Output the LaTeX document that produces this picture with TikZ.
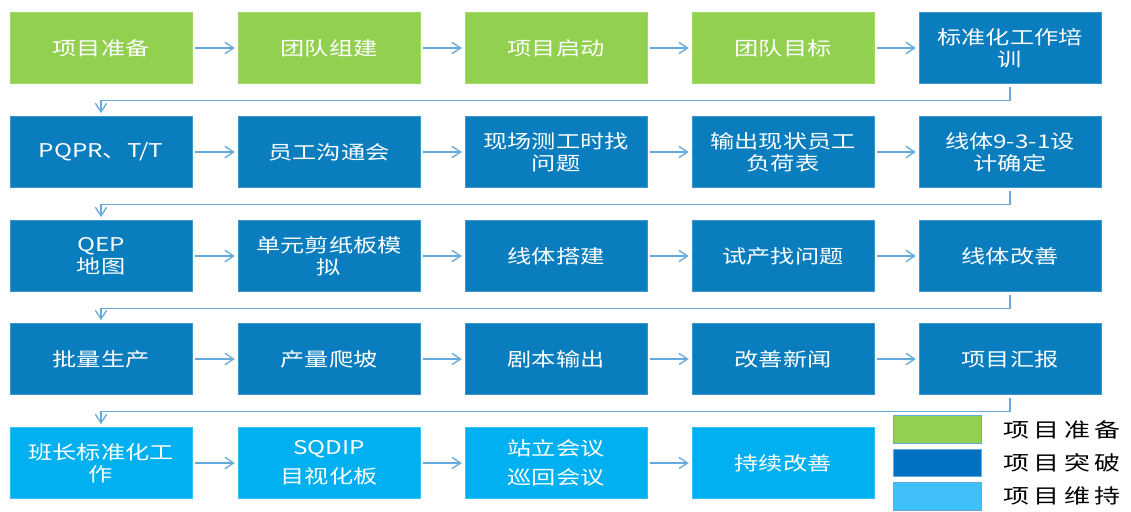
\documentclass[tikz,border=0pt]{standalone}
\usepackage{fontspec}
\newfontfamily\cjk[FakeStretch=1.28]{Noto Sans CJK SC}
\newfontfamily\cjklg[FakeStretch=1.3,LetterSpace=22]{Noto Sans CJK SC}
\usetikzlibrary{arrows.meta}
\definecolor{prepgreen}{HTML}{92D050}
\definecolor{breakblue}{HTML}{0A7DBE}
\definecolor{keepblue}{HTML}{00B0F0}
\definecolor{legblue}{HTML}{0070C0}
\definecolor{legcyan}{HTML}{40C0F8}
\definecolor{linkblue}{HTML}{66AADC}
\tikzset{
  stage/.style={minimum width=136.5pt,minimum height=53.5pt,inner sep=0pt,
    text=white,align=center,font=\cjk\fontsize{14.2}{16.5}\selectfont},
  prep/.style={stage,fill=prepgreen,draw=prepgreen!85!white},
  brk/.style={stage,fill=breakblue,draw=breakblue!80!white},
  keep/.style={stage,fill=keepblue,draw=keepblue!80!white},
  link/.style={draw=linkblue,line width=1pt,shorten <=2.2pt,shorten >=2.2pt,
    -{Straight Barb[length=6.5pt,width=8.5pt,line width=1pt]}},
  legbox/.style={minimum width=66.5pt,minimum height=20.5pt,inner sep=0pt,draw=linkblue,line width=0.6pt},
  legtext/.style={anchor=west,inner sep=0pt,font=\cjklg\fontsize{15}{17}\selectfont}
}
\begin{document}
\begin{tikzpicture}[x=0.75pt,y=-0.75pt]
\useasboundingbox (0,0) rectangle (1131,511);
% row 1
\node[prep] (a1) at (101,48) {项目准备};
\node[prep] (a2) at (329,48) {团队组建};
\node[prep] (a3) at (556,48) {项目启动};
\node[prep] (a4) at (783,48) {团队目标};
\node[brk] (a5) at (1010,48) {标准化工作培\\训};
% row 2
\node[brk] (b1) at (101,152) {PQPR、T/T};
\node[brk] (b2) at (329,152) {员工沟通会};
\node[brk] (b3) at (556,152) {现场测工时找\\问题};
\node[brk] (b4) at (783,152) {输出现状员工\\负荷表};
\node[brk] (b5) at (1010,152) {线体9-3-1设\\计确定};
% row 3
\node[brk] (c1) at (101,256) {QEP\\地图};
\node[brk] (c2) at (329,256) {单元剪纸板模\\拟};
\node[brk] (c3) at (556,256) {线体搭建};
\node[brk] (c4) at (783,256) {试产找问题};
\node[brk] (c5) at (1010,256) {线体改善};
% row 4
\node[brk] (d1) at (101,359) {批量生产};
\node[brk] (d2) at (329,359) {产量爬坡};
\node[brk] (d3) at (556,359) {剧本输出};
\node[brk] (d4) at (783,359) {改善新闻};
\node[brk] (d5) at (1010,359) {项目汇报};
% row 5
\node[keep] (e1) at (101,463) {班长标准化工\\作};
\node[keep] (e2) at (329,463) {SQDIP\\[5pt]目视化板};
\node[keep] (e3) at (556,463) {站立会议\\[5pt]巡回会议};
\node[keep] (e4) at (783,463) {持续改善};
% links in each row
\draw[link] (a1) -- (a2);
\draw[link] (a2) -- (a3);
\draw[link] (a3) -- (a4);
\draw[link] (a4) -- (a5);
\draw[link] (b1) -- (b2);
\draw[link] (b2) -- (b3);
\draw[link] (b3) -- (b4);
\draw[link] (b4) -- (b5);
\draw[link] (c1) -- (c2);
\draw[link] (c2) -- (c3);
\draw[link] (c3) -- (c4);
\draw[link] (c4) -- (c5);
\draw[link] (d1) -- (d2);
\draw[link] (d2) -- (d3);
\draw[link] (d3) -- (d4);
\draw[link] (d4) -- (d5);
\draw[link] (e1) -- (e2);
\draw[link] (e2) -- (e3);
\draw[link] (e3) -- (e4);
% wrap to next row
\draw[link] (a5.south) -- ++(0,16.5) -| (b1.north);
\draw[link] (b5.south) -- ++(0,16.5) -| (c1.north);
\draw[link] (c5.south) -- ++(0,16.5) -| (d1.north);
\draw[link] (d5.south) -- ++(0,16.5) -| (e1.north);
% legend
\node[legbox,fill=prepgreen] (lg1) at (937.5,429.5) {};
\node[legbox,fill=legblue] (lg2) at (937.5,463) {};
\node[legbox,fill=legcyan] (lg3) at (937.5,496.5) {};
\node[legtext] (lt1) at (1003,430) {项目准备};
\node[legtext] (lt2) at (1003,463) {项目突破};
\node[legtext] (lt3) at (1003,496) {项目维持};
\end{tikzpicture}
\end{document}
